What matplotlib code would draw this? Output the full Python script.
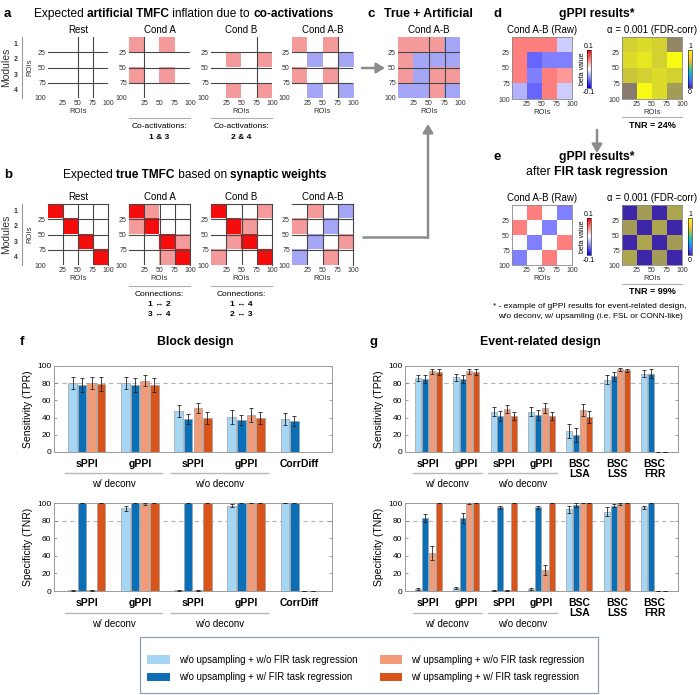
import numpy as np
import matplotlib
matplotlib.use('Agg')
import matplotlib.pyplot as plt
from matplotlib.colors import ListedColormap, LinearSegmentedColormap, Normalize
from matplotlib.patches import Patch, Rectangle
from matplotlib.cm import ScalarMappable
from matplotlib.transforms import blended_transform_factory as btf

plt.rcParams['font.family'] = ['Liberation Sans', 'DejaVu Sans']

# ------------------------------------------------------------------ data
cond_titles = ['Rest', 'Cond A', 'Cond B', 'Cond A-B']
# block values: -1 = negative (blue), 0 = none, 1 = weak positive (pink), 2 = strong (red)
a_rest = [[0, 0, 0, 0], [0, 0, 0, 0], [0, 0, 0, 0], [0, 0, 0, 0]]
a_condA = [[1, 0, 1, 0], [0, 0, 0, 0], [1, 0, 1, 0], [0, 0, 0, 0]]
a_condB = [[0, 0, 0, 0], [0, 1, 0, 1], [0, 0, 0, 0], [0, 1, 0, 1]]
a_condAB = [[1, 0, 1, 0], [0, -1, 0, -1], [1, 0, 1, 0], [0, -1, 0, -1]]
b_rest = [[2, 0, 0, 0], [0, 2, 0, 0], [0, 0, 2, 0], [0, 0, 0, 2]]
b_condA = [[2, 1, 0, 0], [1, 2, 0, 0], [0, 0, 2, 1], [0, 0, 1, 2]]
b_condB = [[2, 0, 0, 1], [0, 2, 1, 0], [0, 1, 2, 0], [1, 0, 0, 2]]
b_condAB = [[0, 1, 0, -1], [1, 0, -1, 0], [0, -1, 0, 1], [-1, 0, 1, 0]]
c_condAB = [[1, 1, 1, -1], [1, -1, -1, -1], [1, -1, 1, 1], [-1, -1, 1, -1]]
d_raw = [[0.05, 0.05, 0.05, -0.02], [0.05, -0.06, -0.05, -0.05],
         [0.05, -0.05, 0.05, 0.04], [-0.03, -0.06, 0.05, -0.02]]
d_thr = [[0.8, 0.85, 0.8, 0.45], [0.85, 0.9, 0.8, 1.0],
         [0.75, 0.8, 0.85, 0.8], [0.4, 1.0, 0.85, 0.55]]
e_raw = [[0.0, 0.05, 0.0, -0.05], [0.05, 0.0, -0.05, 0.0],
         [0.0, -0.05, 0.0, 0.05], [-0.05, 0.0, 0.05, 0.0]]
e_thr = [[0.0, 0.55, 0.0, 0.6], [0.55, 0.0, 0.6, 0.0],
         [0.0, 0.6, 0.0, 0.55], [0.6, 0.0, 0.55, 0.0]]
roi_ticks = [25, 50, 75, 100]
module_labels = ['1', '2', '3', '4']
coact_labels = ['1 & 3', '2 & 4']
conn_labels = [['1 \u2194 2', '3 \u2194 4'], ['1 \u2194 4', '2 \u2194 3']]
tnr_labels = ['TNR = 24%', 'TNR = 99%']

series_names = ['w/o upsampling + w/o FIR task regression',
                'w/o upsampling + w/ FIR task regression',
                'w/ upsampling + w/o FIR task regression',
                'w/ upsampling + w/ FIR task regression']
series_colors = ['#a5d7f5', '#0b6fb8', '#f19b79', '#d9541a']

f_groups = ['sPPI', 'gPPI', 'sPPI', 'gPPI', 'CorrDiff']
f_tpr = [[80, 80, 48, 41, 38], [78, 78, 38, 37, 36],
         [80, 83, 51, 43, np.nan], [79, 78, 40, 40, np.nan]]
f_tpr_err = [[7, 7, 7, 8, 7], [8, 8, 6, 6, 6],
             [7, 6, 6, 8, np.nan], [8, 8, 7, 7, np.nan]]
f_tnr = [[1, 94, 1, 97, 100], [100, 100, 100, 100, 100],
         [1, 99, 1, 100, 0], [100, 100, 100, 100, 0]]
f_tnr_err = [[0.5, 3, 0.5, 1.5, 0.5], [0.5, 0.5, 0.5, 0.5, 0.5],
             [0.5, 1.5, 0.5, 0.5, 0], [0.5, 0.5, 0.5, 0.5, 0]]

g_groups = ['sPPI', 'gPPI', 'sPPI', 'gPPI', 'BSC\nLSA', 'BSC\nLSS', 'BSC\nFRR']
g_tpr = [[86, 87, 47, 47, 24, 84, 91], [85, 85, 42, 43, 20, 88, 91],
         [94, 94, 50, 51, 49, 96, 0], [93, 93, 42, 42, 41, 95, 0]]
g_tpr_err = [[4, 4, 5, 5, 8, 5, 4], [5, 5, 6, 6, 8, 5, 5],
             [3, 3, 5, 6, 7, 2, 0], [3, 3, 5, 5, 7, 2, 0]]
g_tnr = [[2, 3, 1, 2, 93, 90, 95], [83, 83, 95, 95, 98, 97, 100],
         [43, 100, 1, 24, 100, 99, 0], [100, 100, 100, 100, 100, 100, 0]]
g_tnr_err = [[1, 1, 0.5, 1, 4, 5, 2], [5, 6, 2, 2, 2, 2, 0.5],
             [8, 1, 0.5, 6, 0.5, 1, 0], [0.5, 0.5, 0.5, 0.5, 0.5, 0.5, 0]]
deconv_labels = ['w/ deconv', 'w/o deconv']

# ------------------------------------------------------------------ setup
W, H = 700, 695
fig = plt.figure(figsize=(W / 100, H / 100), dpi=100)


def pax(x0, y0, x1, y1):
    return fig.add_axes([x0 / W, 1 - y1 / H, (x1 - x0) / W, (y1 - y0) / H])


blk_cmap = ListedColormap(['#a6a6f7', '#ffffff', '#f59a9a', '#f50c0c'])
parula = LinearSegmentedColormap.from_list('parula', [
    (0.2422, 0.1504, 0.6603), (0.2810, 0.3228, 0.9579), (0.1786, 0.5289, 0.9682),
    (0.0689, 0.6948, 0.8394), (0.2161, 0.7843, 0.5923), (0.6720, 0.7793, 0.2227),
    (0.9970, 0.7659, 0.2199), (0.9657, 0.8923, 0.1566), (0.9769, 0.9839, 0.0805)])
thr_img_cmap = LinearSegmentedColormap.from_list('thr', [(0.2422, 0.1504, 0.6603),
                                                        (0.9769, 0.9839, 0.0805)])
LINE = '#474747'


def style_mat(ax, xlabel=True, ylabel=False):
    ax.set_xticks(roi_ticks)
    ax.set_yticks(roi_ticks)
    ax.set_xlim(0, 100)
    ax.set_ylim(100, 0)
    ax.tick_params(length=0, labelsize=5, pad=1.5, colors='#333333')
    if xlabel:
        ax.set_xlabel('ROIs', fontsize=5.5, labelpad=1, color='#333333')
    if ylabel:
        ax.set_ylabel('ROIs', fontsize=5.5, labelpad=1, color='#333333')


def block_mat(ax, m, hl, vl, frame=()):
    ax.imshow(np.array(m), cmap=blk_cmap, vmin=-1.5, vmax=2.5,
              extent=[0, 100, 100, 0], interpolation='nearest', aspect='auto')
    for v in hl:
        ax.axhline(v, color=LINE, lw=0.8)
    for v in vl:
        ax.axvline(v, color=LINE, lw=0.8)
    for s in ax.spines:
        ax.spines[s].set_visible(s in frame)
        ax.spines[s].set_color(LINE)
        ax.spines[s].set_linewidth(0.8)


# ---------------------------------------------------------- panel a & b
mat_x = [(48, 108), (129, 190), (211, 272), (292, 353)]
a_y = (37, 98)
b_y = (204, 265)
a_list = [a_rest, a_condA, a_condB, a_condAB]
b_list = [b_rest, b_condA, b_condB, b_condAB]
a_vl = [[50, 75], [25], [75], [75]]
for i, (x0, x1) in enumerate(mat_x):
    ax = pax(x0, a_y[0], x1, a_y[1])
    block_mat(ax, a_list[i], [25, 50, 75], a_vl[i])
    style_mat(ax, xlabel=(i != 1), ylabel=(i == 0))
    ax.set_title(cond_titles[i], fontsize=7, pad=3)
    ax = pax(x0, b_y[0], x1, b_y[1])
    block_mat(ax, b_list[i], [25, 50, 75], [25, 50, 75], frame=('top', 'right'))
    style_mat(ax, xlabel=True, ylabel=(i == 0))
    ax.set_title(cond_titles[i], fontsize=7, pad=3)

# ---------------------------------------------------------- panel c
ax = pax(398, 37, 460, 98)
block_mat(ax, c_condAB, [25, 50, 75], [50, 75])
style_mat(ax)
ax.set_title('Cond A-B', fontsize=7, pad=3)


# ---------------------------------------------------------- panel d & e
def small_cbar(x0, y0, x1, y1, norm, cmap, lo, hi, label=None):
    cax = pax(x0, y0, x1, y1)
    cb = fig.colorbar(ScalarMappable(norm, cmap), cax=cax)
    cb.set_ticks([])
    cb.outline.set_linewidth(0.4)
    xc = (x0 + x1) / 2
    return cax, (xc, y0 - 4, hi), (xc, y1 + 5, lo), label, (x0 - 5, (y0 + y1) / 2)


cbar_texts = []


def raw_pair(y0, y1, raw, thr, cb_y):
    ax = pax(512, y0, 572, y1)
    ax.imshow(np.array(raw), cmap='bwr', vmin=-0.1, vmax=0.1,
              extent=[0, 100, 100, 0], interpolation='nearest', aspect='auto')
    style_mat(ax)
    for s in ax.spines.values():
        s.set_color('#888888'); s.set_linewidth(0.6)
    ax.set_title('Cond A-B (Raw)', fontsize=7, pad=3)
    cbar_texts.append(small_cbar(587, cb_y[0], 591, cb_y[1], Normalize(-0.1, 0.1), 'bwr',
                                 '-0.1', '0.1', 'beta value'))
    ax = pax(622, y0, 682, y1)
    ax.imshow(np.array(thr), cmap=thr_img_cmap, vmin=0, vmax=1,
              extent=[0, 100, 100, 0], interpolation='nearest', aspect='auto')
    style_mat(ax)
    for s in ax.spines.values():
        s.set_color('#888888'); s.set_linewidth(0.6)
    ax.set_title('\u03b1 = 0.001 (FDR-corr)', fontsize=7, pad=3)
    cbar_texts.append(small_cbar(688, cb_y[0], 692, cb_y[1], Normalize(0, 1), parula,
                                 '0', '1'))


raw_pair(37, 99, d_raw, d_thr, (50, 88))
raw_pair(205, 265, e_raw, e_thr, (218, 255))


# ---------------------------------------------------------- bar panels
def bar_panel(ax, groups, vals, errs, ylabel):
    n = len(groups)
    xs = np.arange(1, n + 1)
    offs = [-0.27, -0.09, 0.09, 0.27]
    for k in range(4):
        v = np.array(vals[k], dtype=float)
        e = np.array(errs[k], dtype=float)
        ax.bar(xs + offs[k], v, width=0.16, color=series_colors[k],
               edgecolor='#a0a0a0', linewidth=0.5, zorder=2)
        ax.errorbar(xs + offs[k], v, yerr=e, fmt='none', ecolor='#222222',
                    elinewidth=0.6, capsize=1.3, capthick=0.6, zorder=3)
    ax.axhline(80, ls=(0, (4, 3)), color='#b5b5b5', lw=0.8, zorder=1)
    ax.set_xlim(xs[0] - 0.62, xs[-1] + 0.62)
    ax.set_ylim(0, 100)
    ax.set_yticks([0, 20, 40, 60, 80, 100])
    ax.set_xticks(xs)
    ax.set_xticklabels(groups, fontsize=7.5, fontweight='bold', linespacing=1.0)
    ax.tick_params(axis='x', length=0, pad=5)
    ax.tick_params(axis='y', direction='in', length=2, right=True, labelsize=6,
                   pad=2, width=0.5, color='#777777')
    for s in ax.spines.values():
        s.set_color('#9a9a9a'); s.set_linewidth(0.7)
    ax.set_ylabel(ylabel, fontsize=7.5, labelpad=3)
    tr = btf(ax.transData, ax.transAxes)
    for j, lab in enumerate(deconv_labels):
        xa, xb = 2 * j + 1 - 0.42, 2 * j + 2 + 0.42
        ax.plot([xa, xb], [-0.245, -0.245], color='#b8b8b8', lw=1.0,
                transform=tr, clip_on=False)
        ax.text((xa + xb) / 2, -0.37, lab, fontsize=7, ha='center', va='center',
                transform=tr)


axf1 = pax(54, 366, 332, 452)
bar_panel(axf1, f_groups, f_tpr, f_tpr_err, 'Sensitivity (TPR)')
axf2 = pax(54, 503, 332, 591)
bar_panel(axf2, f_groups, f_tnr, f_tnr_err, 'Specificity (TNR)')
axg1 = pax(405, 366, 678, 452)
bar_panel(axg1, g_groups, g_tpr, g_tpr_err, 'Sensitivity (TPR)')
axg2 = pax(405, 503, 678, 591)
bar_panel(axg2, g_groups, g_tnr, g_tnr_err, 'Specificity (TNR)')

# ---------------------------------------------------------- legend
handles = [Patch(facecolor=c, edgecolor='none') for c in series_colors]
leg = fig.legend(handles, series_names, ncol=2, loc='center',
                 bbox_to_anchor=(366 / W, 1 - 668.5 / H), fontsize=6.9,
                 frameon=False, handlelength=2.3, handleheight=1.0,
                 columnspacing=2.3, labelspacing=0.75, borderpad=0.3,
                 handletextpad=1.0)

# ---------------------------------------------------------- overlay texts
ov = fig.add_axes([0, 0, 1, 1], zorder=10)
ov.set_xlim(0, W)
ov.set_ylim(H, 0)
ov.axis('off')
renderer = fig.canvas.get_renderer()
ov.add_patch(Rectangle((140, 637), 458, 55.5, fill=False, edgecolor='#8f9db3', lw=0.9))

for cax, top, bot, lab, labpos in cbar_texts:
    ov.text(top[0], top[1], top[2], fontsize=5, ha='center', va='center')
    ov.text(bot[0], bot[1], bot[2], fontsize=5, ha='center', va='center')
    if lab:
        ov.text(labpos[0], labpos[1], lab, fontsize=5, rotation=90,
                ha='center', va='center')


def twidth(s, size, bold):
    t = ov.text(0, 0, s + '|', fontsize=size, fontweight='bold' if bold else 'normal')
    t2 = ov.text(0, 0, '|', fontsize=size, fontweight='bold' if bold else 'normal')
    w = t.get_window_extent(renderer).width - t2.get_window_extent(renderer).width
    t.remove(); t2.remove()
    return w


def rich(x, y, parts, size):
    ws = [twidth(s, size, b) for s, b in parts]
    x0 = x - sum(ws) / 2
    for (s, b), w in zip(parts, ws):
        ov.text(x0, y, s, fontsize=size, fontweight='bold' if b else 'normal',
                ha='left', va='center')
        x0 += w


def letter(x, y, s):
    ov.text(x, y, s, fontsize=9.5, fontweight='bold', ha='left', va='center')


TS = 8.8
letter(4, 14, 'a')
rich(184, 14, [('Expected ', False), ('artificial TMFC', True), (' inflation due to ', False),
               ('co-activations', True)], 8.6)
letter(4, 175, 'b')
rich(195, 175, [('Expected ', False), ('true TMFC', True), (' based on ', False),
                ('synaptic weights', True)], 8.6)
letter(368, 14, 'c')
rich(428, 14, [('True + Artificial', True)], TS)
letter(494, 14, 'd')
rich(597, 14, [('gPPI results*', True)], TS)
letter(494, 157, 'e')
rich(597, 157, [('gPPI results*', True)], TS)
rich(597, 172, [('after ', False), ('FIR task regression', True)], TS)
letter(20, 342, 'f')
rich(195, 342, [('Block design', True)], TS)
letter(369, 342, 'g')
rich(540, 342, [('Event-related design', True)], TS)

# module labels
for (y0, y1) in (a_y, b_y):
    ov.plot([21.5, 21.5], [y0, y1], color='#9a9a9a', lw=0.8)
    for k, lab in enumerate(module_labels):
        ov.text(16, y0 + (k + 0.5) / 4 * (y1 - y0), lab, fontsize=5,
                ha='center', va='center', fontweight='bold', color='#333333')
    ov.text(6, (y0 + y1) / 2, 'Modules', fontsize=7.5, rotation=90,
            ha='center', va='center', color='#333333')

# co-activations / connections
for j, (x0, x1) in enumerate(mat_x[1:3]):
    xc = (x0 + x1) / 2
    ov.plot([x0, x1], [118, 118], color='#b0b0b0', lw=0.8)
    ov.text(xc, 127, 'Co-activations:', fontsize=6, ha='center', va='center')
    ov.text(xc, 137.5, coact_labels[j], fontsize=6, ha='center', va='center',
            fontweight='bold')
    ov.plot([x0, x1], [286, 286], color='#b0b0b0', lw=0.8)
    ov.text(xc, 295, 'Connections:', fontsize=6, ha='center', va='center')
    ov.text(xc, 305, conn_labels[j][0], fontsize=6, ha='center', va='center',
            fontweight='bold')
    ov.text(xc, 315, conn_labels[j][1], fontsize=6, ha='center', va='center',
            fontweight='bold')

# TNR labels
for y, lab in zip((117, 284), tnr_labels):
    ov.plot([622, 682], [y, y], color='#b0b0b0', lw=0.8)
    ov.text(652, y + 8, lab, fontsize=6.5, ha='center', va='center', fontweight='bold')

ov.text(590, 306, '* - example of gPPI results for event-related design,',
        fontsize=6, ha='center', va='center')
ov.text(590, 317, 'w/o deconv, w/ upsamling (i.e. FSL or CONN-like)',
        fontsize=6, ha='center', va='center')

# arrows
ARC = '#8c8c8c'
arrow_kw = dict(arrowstyle='-|>,head_length=0.5,head_width=0.3', color=ARC, lw=1.8,
                shrinkA=0, shrinkB=0)
ov.annotate('', xy=(385, 68), xytext=(362, 68), arrowprops=arrow_kw)
ov.plot([362, 428], [237, 237], color=ARC, lw=1.8, solid_capstyle='butt')
ov.annotate('', xy=(428, 124), xytext=(428, 237.9), arrowprops=arrow_kw)
ov.annotate('', xy=(597, 153), xytext=(597, 130), arrowprops=arrow_kw)

fig.savefig('out.png', dpi=100)
